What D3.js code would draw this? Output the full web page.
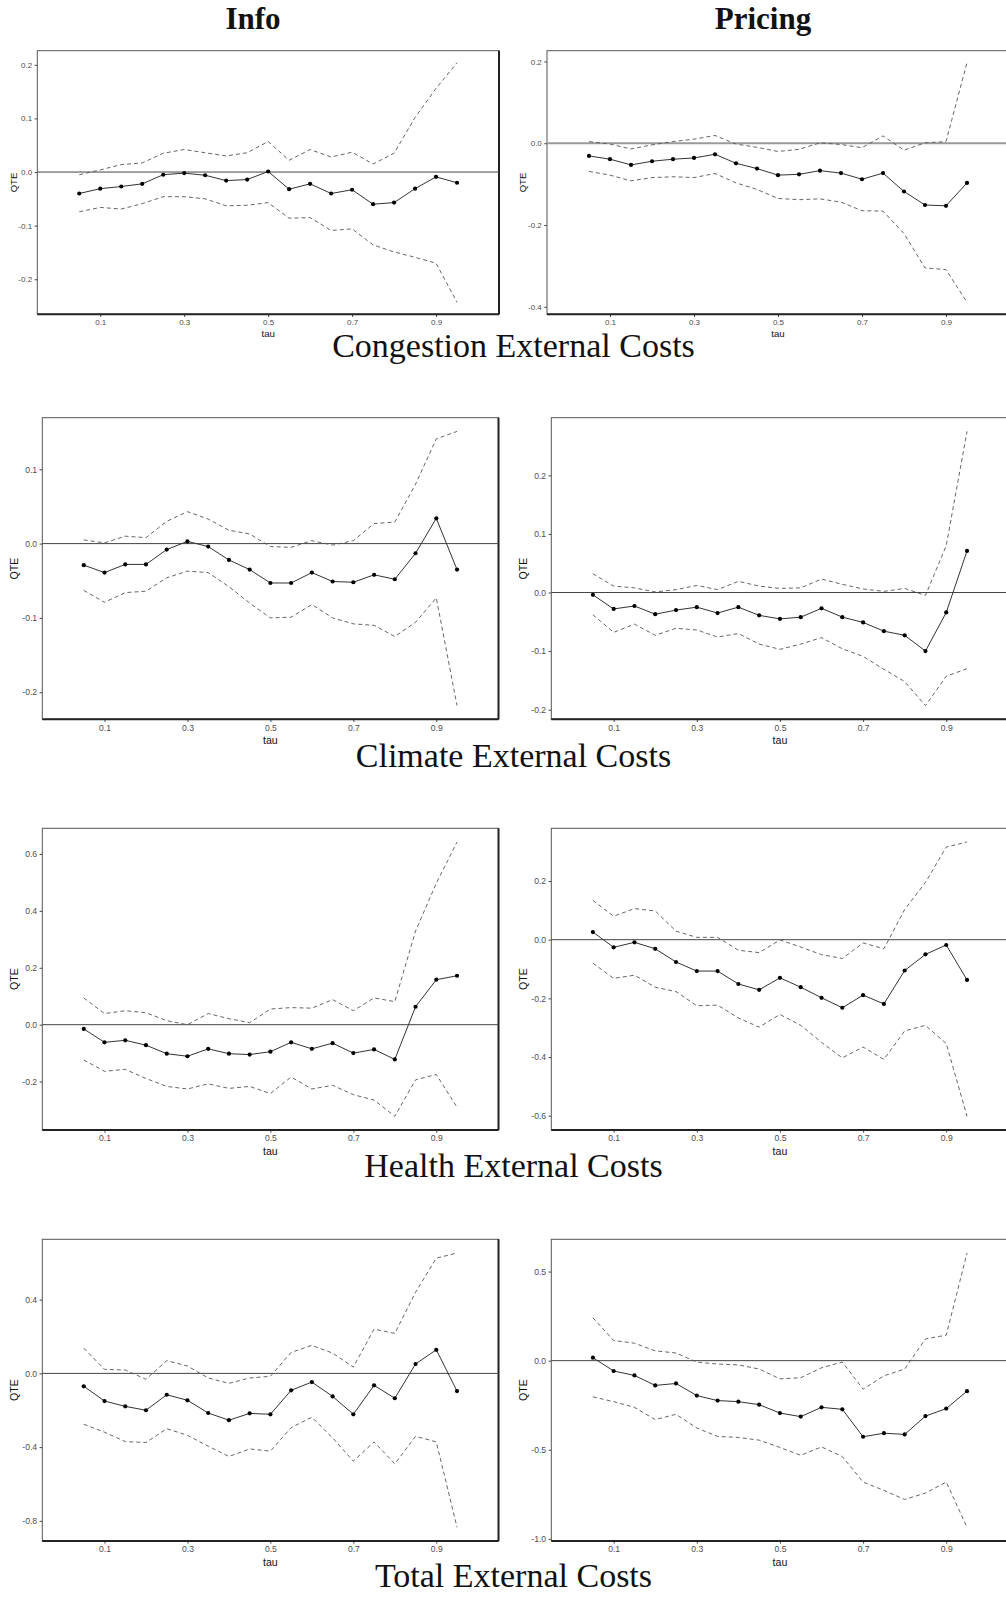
<!DOCTYPE html>
<html>
<head>
<meta charset="utf-8">
<script src="https://cdn.jsdelivr.net/npm/d3@7"></script>
<style>
  html, body { margin: 0; padding: 0; background: #fff; }
  svg { display: block; }
</style>
</head>
<body>
<svg id="chart" width="1006" height="1598"></svg>
<script>
// Quantile levels shared by every panel
const tau = [0.05, 0.10, 0.15, 0.20, 0.25, 0.30, 0.35, 0.40, 0.45, 0.50,
             0.55, 0.60, 0.65, 0.70, 0.75, 0.80, 0.85, 0.90, 0.95];
const xTicks = [0.1, 0.3, 0.5, 0.7, 0.9];

const columnTitles = ["Info", "Pricing"];
const rowTitles = ["Congestion External Costs", "Climate External Costs",
                   "Health External Costs", "Total External Costs"];

// Congestion — Info
const congInfoEst = [-0.040, -0.031, -0.027, -0.022, -0.005, -0.002, -0.006, -0.016, -0.014, 0.001,
                     -0.032, -0.022, -0.040, -0.033, -0.060, -0.057, -0.031, -0.009, -0.020];
const congInfoHi  = [-0.005, 0.004, 0.014, 0.017, 0.035, 0.042, 0.036, 0.030, 0.036, 0.057,
                     0.022, 0.042, 0.028, 0.037, 0.015, 0.035, 0.102, 0.156, 0.204];
const congInfoLo  = [-0.074, -0.066, -0.069, -0.059, -0.046, -0.046, -0.050, -0.063, -0.062, -0.057,
                     -0.086, -0.085, -0.109, -0.106, -0.136, -0.149, -0.159, -0.170, -0.243];
const congInfoTicks = [-0.2, -0.1, 0.0, 0.1, 0.2];

// Congestion — Pricing
const congPriceEst = [-0.031, -0.039, -0.053, -0.044, -0.039, -0.036, -0.027, -0.049, -0.062, -0.078,
                      -0.076, -0.067, -0.073, -0.088, -0.073, -0.118, -0.151, -0.153, -0.097];
const congPriceHi  = [0.004, -0.002, -0.014, -0.004, 0.004, 0.010, 0.019, -0.002, -0.010, -0.020,
                      -0.015, 0.001, -0.003, -0.011, 0.018, -0.017, 0.001, 0.004, 0.197];
const congPriceLo  = [-0.069, -0.078, -0.092, -0.084, -0.082, -0.084, -0.074, -0.097, -0.113, -0.135,
                      -0.138, -0.136, -0.144, -0.165, -0.166, -0.221, -0.305, -0.309, -0.389];
const congPriceTicks = [-0.4, -0.2, 0.0, 0.2];

// Climate — Info
const climInfoEst = [-0.029, -0.039, -0.028, -0.028, -0.008, 0.003, -0.004, -0.022, -0.035, -0.053,
                     -0.053, -0.039, -0.051, -0.052, -0.042, -0.048, -0.013, 0.034, -0.035];
const climInfoHi  = [0.005, 0.001, 0.010, 0.008, 0.030, 0.043, 0.033, 0.018, 0.013, -0.004,
                     -0.005, 0.004, -0.002, 0.004, 0.027, 0.029, 0.080, 0.141, 0.151];
const climInfoLo  = [-0.063, -0.079, -0.066, -0.064, -0.046, -0.037, -0.039, -0.058, -0.080, -0.100,
                     -0.099, -0.082, -0.100, -0.108, -0.110, -0.125, -0.106, -0.073, -0.218];
const climInfoTicks = [-0.2, -0.1, 0.0, 0.1];

// Climate — Pricing
const climPriceEst = [-0.004, -0.028, -0.023, -0.037, -0.030, -0.025, -0.035, -0.025, -0.039, -0.045,
                      -0.042, -0.027, -0.042, -0.051, -0.066, -0.073, -0.100, -0.034, 0.071];
const climPriceHi  = [0.032, 0.011, 0.008, 0.001, 0.005, 0.012, 0.005, 0.019, 0.011, 0.007,
                      0.008, 0.023, 0.014, 0.006, 0.002, 0.007, -0.005, 0.080, 0.275];
const climPriceLo  = [-0.038, -0.068, -0.054, -0.073, -0.061, -0.064, -0.076, -0.070, -0.088, -0.097,
                      -0.088, -0.077, -0.096, -0.109, -0.131, -0.152, -0.193, -0.143, -0.130];
const climPriceTicks = [-0.2, -0.1, 0.0, 0.1, 0.2];

// Health — Info
const healthInfoEst = [-0.015, -0.062, -0.055, -0.072, -0.102, -0.111, -0.085, -0.102, -0.105, -0.095,
                       -0.062, -0.085, -0.065, -0.100, -0.087, -0.122, 0.063, 0.158, 0.172];
const healthInfoHi  = [0.094, 0.039, 0.049, 0.042, 0.014, 0.000, 0.039, 0.021, 0.007, 0.055,
                       0.060, 0.058, 0.088, 0.049, 0.094, 0.081, 0.329, 0.497, 0.642];
const healthInfoLo  = [-0.124, -0.164, -0.157, -0.189, -0.217, -0.226, -0.208, -0.224, -0.217, -0.242,
                       -0.184, -0.226, -0.213, -0.246, -0.265, -0.322, -0.194, -0.175, -0.290];
const healthInfoTicks = [-0.2, 0.0, 0.2, 0.4, 0.6];

// Health — Pricing
const healthPriceEst = [0.026, -0.026, -0.009, -0.031, -0.076, -0.107, -0.107, -0.151, -0.171, -0.130,
                        -0.162, -0.198, -0.232, -0.189, -0.219, -0.105, -0.050, -0.018, -0.137];
const healthPriceHi  = [0.134, 0.080, 0.106, 0.098, 0.029, 0.008, 0.008, -0.036, -0.044, -0.001,
                        -0.025, -0.051, -0.064, -0.011, -0.031, 0.103, 0.195, 0.316, 0.333];
const healthPriceLo  = [-0.080, -0.132, -0.121, -0.162, -0.177, -0.225, -0.223, -0.267, -0.298, -0.255,
                        -0.292, -0.350, -0.403, -0.366, -0.408, -0.311, -0.292, -0.354, -0.602];
const healthPriceTicks = [-0.6, -0.4, -0.2, 0.0, 0.2];

// Total — Info
const totalInfoEst = [-0.070, -0.150, -0.179, -0.200, -0.116, -0.146, -0.215, -0.254, -0.217, -0.222,
                      -0.092, -0.047, -0.125, -0.222, -0.065, -0.135, 0.051, 0.128, -0.096];
const totalInfoHi  = [0.137, 0.022, 0.018, -0.032, 0.069, 0.040, -0.025, -0.054, -0.025, -0.016,
                      0.114, 0.152, 0.110, 0.034, 0.240, 0.217, 0.440, 0.625, 0.653];
const totalInfoLo  = [-0.276, -0.319, -0.370, -0.375, -0.300, -0.336, -0.395, -0.451, -0.410, -0.422,
                      -0.294, -0.238, -0.350, -0.476, -0.372, -0.491, -0.341, -0.372, -0.835];
const totalInfoTicks = [-0.8, -0.4, 0.0, 0.4];

// Total — Pricing
const totalPriceEst = [0.017, -0.058, -0.083, -0.139, -0.128, -0.196, -0.224, -0.230, -0.247, -0.294,
                       -0.314, -0.262, -0.273, -0.427, -0.407, -0.414, -0.311, -0.269, -0.171];
const totalPriceHi  = [0.241, 0.113, 0.098, 0.055, 0.043, -0.008, -0.019, -0.024, -0.047, -0.102,
                       -0.096, -0.040, -0.008, -0.160, -0.085, -0.047, 0.122, 0.143, 0.604];
const totalPriceLo  = [-0.203, -0.230, -0.262, -0.331, -0.301, -0.378, -0.425, -0.431, -0.446, -0.487,
                       -0.531, -0.484, -0.538, -0.681, -0.728, -0.779, -0.743, -0.681, -0.935];
const totalPriceTicks = [-1.0, -0.5, 0.0, 0.5];

// Grid of panels: [row][col]
const panelData = [
  [{est: congInfoEst, hi: congInfoHi, lo: congInfoLo, ticks: congInfoTicks},
   {est: congPriceEst, hi: congPriceHi, lo: congPriceLo, ticks: congPriceTicks}],
  [{est: climInfoEst, hi: climInfoHi, lo: climInfoLo, ticks: climInfoTicks},
   {est: climPriceEst, hi: climPriceHi, lo: climPriceLo, ticks: climPriceTicks}],
  [{est: healthInfoEst, hi: healthInfoHi, lo: healthInfoLo, ticks: healthInfoTicks},
   {est: healthPriceEst, hi: healthPriceHi, lo: healthPriceLo, ticks: healthPriceTicks}],
  [{est: totalInfoEst, hi: totalInfoHi, lo: totalInfoLo, ticks: totalInfoTicks},
   {est: totalPriceEst, hi: totalPriceHi, lo: totalPriceLo, ticks: totalPriceTicks}]
];

// ---- layout -------------------------------------------------------------
const rowBoxes = [
  {top: 50.7, bottom: 314.3, tick: 8.0, title: 9.6, left: [37.3, 499.0], right: [547.0, 1009.0]},
  {top: 417.7, bottom: 719.3, tick: 8.6, title: 10.6, left: [42.3, 498.5], right: [551.3, 1008.6]},
  {top: 828.3, bottom: 1130.0, tick: 8.6, title: 10.6, left: [42.3, 498.5], right: [551.3, 1008.6]},
  {top: 1239.3, bottom: 1541.0, tick: 8.6, title: 10.6, left: [42.3, 498.5], right: [551.3, 1008.6]}
];
const rowTitleBaseline = [357, 767, 1177, 1587];
const fmt = d => d.toFixed(1);

const svg = d3.select("#chart");

// column headings
svg.selectAll("text.colTitle").data(columnTitles).join("text")
  .attr("class", "colTitle")
  .attr("x", (d, i) => i === 0 ? 253 : 763)
  .attr("y", 28.6)
  .attr("text-anchor", "middle")
  .attr("font-family", "'Liberation Serif', 'Times New Roman', serif")
  .attr("font-weight", "bold")
  .attr("font-size", 31)
  .attr("fill", "#111")
  .text(d => d);

// row captions
svg.selectAll("text.rowTitle").data(rowTitles).join("text")
  .attr("class", "rowTitle")
  .attr("x", 513.5)
  .attr("y", (d, i) => rowTitleBaseline[i])
  .attr("text-anchor", "middle")
  .attr("font-family", "'Liberation Serif', 'Times New Roman', serif")
  .attr("font-size", 34)
  .attr("fill", "#111")
  .text(d => d);

function expand(vals) {
  const [lo, hi] = d3.extent(vals);
  const pad = (hi - lo) * 0.05;
  return [lo - pad, hi + pad];
}

function drawPanel(row, col) {
  const box = rowBoxes[row];
  const [x0, x1] = col === 0 ? box.left : box.right;
  const w = x1 - x0, h = box.bottom - box.top;
  const d = panelData[row][col];

  const x = d3.scaleLinear().domain([-0.05, 1.05]).range([0, w]);
  const y = d3.scaleLinear().domain(expand(d.est.concat(d.hi, d.lo))).range([h, 0]);

  const g = svg.append("g").attr("transform", `translate(${x0},${box.top})`);

  // axes
  const xa = g.append("g").attr("transform", `translate(0,${h})`)
    .call(d3.axisBottom(x).tickValues(xTicks).tickSize(2.7).tickPadding(2.5).tickFormat(fmt));
  const ya = g.append("g")
    .call(d3.axisLeft(y).tickValues(d.ticks).tickSize(2.7).tickPadding(2.5).tickFormat(fmt));
  [xa, ya].forEach(a => {
    a.select(".domain").remove();
    a.selectAll(".tick line").attr("stroke", "#333").attr("stroke-width", 0.9);
    a.selectAll(".tick text")
      .attr("fill", "#4d4d4d")
      .attr("font-family", "'Liberation Sans', Arial, sans-serif")
      .attr("font-size", box.tick);
  });

  // axis titles
  g.append("text")
    .attr("x", w / 2).attr("y", h + (row === 0 ? 22.5 : 25))
    .attr("text-anchor", "middle")
    .attr("font-family", "'Liberation Sans', Arial, sans-serif")
    .attr("font-size", box.title).attr("fill", "#111")
    .text("tau");
  g.append("text")
    .attr("transform", `translate(${(col === 0 ? 13.3 : 522.3) - x0 + (row === 0 ? 0 : 1.2)},${h / 2}) rotate(-90)`)
    .attr("text-anchor", "middle")
    .attr("dy", "0.35em")
    .attr("font-family", "'Liberation Sans', Arial, sans-serif")
    .attr("font-size", box.title).attr("fill", "#111")
    .text("QTE");

  // panel frame: light outline with heavier bottom/right edges
  g.append("rect").attr("x", 0).attr("y", 0).attr("width", w).attr("height", h)
    .attr("fill", "none").attr("stroke", "#555").attr("stroke-width", 1);
  g.append("line").attr("x1", 0).attr("x2", w).attr("y1", h).attr("y2", h)
    .attr("stroke", "#222").attr("stroke-width", 2);
  g.append("line").attr("x1", w).attr("x2", w).attr("y1", 0).attr("y2", h)
    .attr("stroke", "#222").attr("stroke-width", 2);

  // zero reference
  const heavyZero = row === 0 && col === 1;
  g.append("line").attr("x1", 0).attr("x2", w).attr("y1", y(0)).attr("y2", y(0))
    .attr("stroke", heavyZero ? "#9a9a9a" : "#444")
    .attr("stroke-width", heavyZero ? 2 : 1);

  const line = d3.line().x((v, i) => x(tau[i])).y(v => y(v));

  // confidence bounds
  [d.hi, d.lo].forEach(series => {
    g.append("path").datum(series).attr("d", line)
      .attr("fill", "none").attr("stroke", "#555")
      .attr("stroke-width", 0.9).attr("stroke-dasharray", "4,3");
  });

  // point estimates
  g.append("path").datum(d.est).attr("d", line)
    .attr("fill", "none").attr("stroke", "#333").attr("stroke-width", 1);
  g.selectAll("circle").data(d.est).join("circle")
    .attr("cx", (v, i) => x(tau[i])).attr("cy", v => y(v))
    .attr("r", 2.1).attr("fill", "#000");
}

for (let r = 0; r < 4; r++) for (let c = 0; c < 2; c++) drawPanel(r, c);
</script>
</body>
</html>
